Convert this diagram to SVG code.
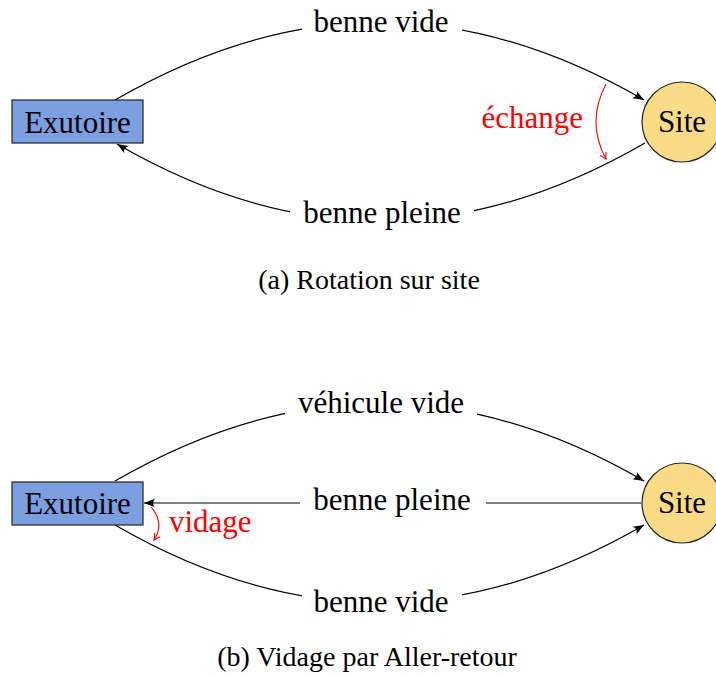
<svg xmlns="http://www.w3.org/2000/svg" width="716" height="677" viewBox="0 0 716 677">
<style>
text{font-family:"Liberation Serif","Times New Roman",serif;fill:#000}
.lbl{font-size:31px;text-anchor:middle}
.cap{font-size:28px;text-anchor:middle}
.red{fill:#ff0000;font-size:31px}
.edge{fill:none;stroke:#000;stroke-width:1.2}
.redge{fill:none;stroke:#ff0000;stroke-width:1.1}
.box{fill:#7b9fe1;stroke:#222;stroke-width:1.2}
.site{fill:#fadb85;stroke:#222;stroke-width:1.2}
.bg{fill:#fff}
</style>
<defs>
<marker id="ah" markerUnits="userSpaceOnUse" markerWidth="14" markerHeight="12" refX="11" refY="5" orient="auto" viewBox="0 0 14 10">
<path d="M0,0.8 Q4,4 0,9.2 L11,5 Z" fill="#000"/>
</marker>
<marker id="rh" markerUnits="userSpaceOnUse" markerWidth="10" markerHeight="10" refX="7" refY="5" orient="auto" viewBox="0 0 10 10">
<path d="M1,1.5 Q4,4 7,5 Q4,6 1,8.5" fill="none" stroke="#ff0000" stroke-width="1.1"/>
</marker>
</defs>

<g id="connectors">
<path class="edge" d="M115,100 C294,-3.5 465,-3.5 644,100" marker-end="url(#ah)"/>
<path class="edge" d="M645,143 C466,246.5 294,246.5 117,144" marker-end="url(#ah)"/>
<path class="redge" d="M606,84 Q586,122 606,159" marker-end="url(#rh)"/>
<path class="edge" d="M115,481 C294,377.5 465,377.5 644,481" marker-end="url(#ah)"/>
<path class="edge" d="M641,503 L144,503" marker-end="url(#ah)"/>
<path class="edge" d="M115,525 C294,628.5 465,628.5 644,525" marker-end="url(#ah)"/>
<path class="redge" d="M151,507 Q165,523 154,540" marker-end="url(#rh)"/>
</g>

<g id="labels">
<rect class="bg" x="302" y="6" width="160" height="32"/>
<text class="lbl" x="381" y="32">benne vide</text>
<rect class="bg" x="290" y="202" width="184" height="34"/>
<text class="lbl" x="382" y="223">benne pleine</text>
<text class="red" x="583" y="128" text-anchor="end">échange</text>
<rect class="bg" x="285" y="388" width="192" height="32"/>
<text class="lbl" x="381" y="413">véhicule vide</text>
<rect class="bg" x="300" y="486" width="186" height="34"/>
<text class="lbl" x="392" y="510">benne pleine</text>
<rect class="bg" x="302" y="584" width="160" height="32"/>
<text class="lbl" x="381" y="612">benne vide</text>
<text class="red" x="169" y="532">vidage</text>
</g>

<g id="exutoire-a">
<rect class="box" x="12" y="100" width="131" height="43"/>
<text class="lbl" x="77.5" y="132.5">Exutoire</text>
</g>
<g id="site-a">
<circle class="site" cx="682" cy="122" r="40"/>
<text class="lbl" x="682" y="132">Site</text>
</g>
<g id="exutoire-b">
<rect class="box" x="12" y="482" width="131" height="43"/>
<text class="lbl" x="77.5" y="514">Exutoire</text>
</g>
<g id="site-b">
<circle class="site" cx="682" cy="503" r="40"/>
<text class="lbl" x="682" y="513">Site</text>
</g>

<g id="captions">
<text class="cap" x="369" y="289">(a) Rotation sur site</text>
<text class="cap" x="367" y="666">(b) Vidage par Aller-retour</text>
</g>
</svg>
